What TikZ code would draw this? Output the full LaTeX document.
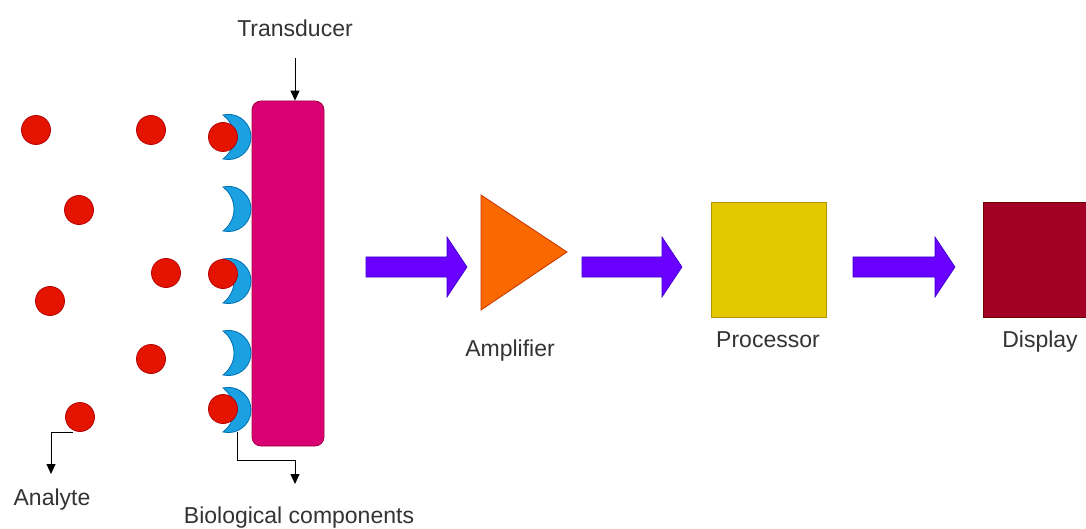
\documentclass[tikz,border=0pt]{standalone}
\usepackage{fontspec}
\setmainfont{Liberation Sans}
\usetikzlibrary{arrows.meta}
\definecolor{redF}{HTML}{E51400}
\definecolor{redD}{HTML}{B20000}
\definecolor{blueF}{HTML}{1BA1E2}
\definecolor{blueD}{HTML}{006EAF}
\definecolor{magF}{HTML}{D80073}
\definecolor{magD}{HTML}{A50040}
\definecolor{purF}{HTML}{6A00FF}
\definecolor{purD}{HTML}{3700CC}
\definecolor{orgF}{HTML}{FA6800}
\definecolor{orgD}{HTML}{C73500}
\definecolor{yelF}{HTML}{E3C800}
\definecolor{yelD}{HTML}{B09500}
\definecolor{crmF}{HTML}{A20025}
\definecolor{crmD}{HTML}{6F0000}
\definecolor{txt}{HTML}{333333}
\newcommand{\crescent}[2]{% name, center y
  \draw[bio] (228.4,#2) ++(-103.8:22.6) coordinate (#1)
    arc[start angle=-103.8, end angle=103.8, radius=22.6]
    arc[start angle=53.1, end angle=-53.1, radius=27.5] -- cycle;
  \coordinate (#1c) at (237,#2);}
\newcommand{\blockarrow}[4]{% name, left x, head base x, tip x (centre y 267)
  \draw[blockarr] (#2,257) -- (#3,257) -- (#3,237) -- (#4,267) -- (#3,297) -- (#3,277) -- (#2,277) -- cycle;
  \coordinate (#1) at (#2,267);}
\begin{document}
\begin{tikzpicture}[x=1pt,y=-1pt,
  analyte/.style={circle, fill=redF, draw=redD, line width=0.8pt, minimum size=29pt, inner sep=0pt},
  bio/.style={fill=blueF, draw=blueD, line width=0.8pt},
  lbl/.style={text=txt, font=\fontsize{23}{27}\selectfont, inner sep=0pt, anchor=base},
  conn/.style={black, line width=1pt, -{Triangle[length=10pt,width=9pt]}},
  blockarr/.style={fill=purF, draw=purD, line width=0.6pt}]
\clip (0,0) rectangle (1086,529);
\fill[white] (0,0) rectangle (1086,529);

% transducer
\node[draw=magD, fill=magF, line width=0.8pt, rounded corners=9pt, minimum width=72pt, minimum height=345pt, inner sep=0pt] (trans) at (288,273.5) {};

% biological components
\crescent{b1}{137}
\crescent{b2}{209}
\crescent{b3}{281}
\crescent{b4}{353}
\crescent{b5}{410}

% analytes
\node[analyte] (a1) at (36,130) {};
\node[analyte] (a2) at (151,130) {};
\node[analyte] (a3) at (223,137) {};
\node[analyte] (a4) at (79,210) {};
\node[analyte] (a5) at (166,273) {};
\node[analyte] (a6) at (223,274) {};
\node[analyte] (a7) at (50,301) {};
\node[analyte] (a8) at (151,359) {};
\node[analyte] (a9) at (80,417) {};
\node[analyte] (a10) at (223,409) {};

% labels
\node[lbl] (tl) at (295,37) {Transducer};
\node[lbl] (al) at (52,505) {Analyte};
\node[lbl] (bl) at (299,523) {Biological components};
\node[lbl] (ampl) at (510,356) {Amplifier};
\node[lbl] (prl) at (768,347) {Processor};
\node[lbl] (dl) at (1040,347) {Display};

% callouts
\coordinate (tstart) at (295,58);
\draw[conn] (tstart) -- (trans.north -| tstart);
\coordinate (aend) at (51,474);
\draw[conn] (a9.south west |- 0,432) ++(4,0) -| (aend);
\coordinate (bend) at (295,484);
\draw[conn] (237,432) |- (295,460) -- (bend);

% amplifier
\draw[fill=orgF, draw=orgD, line width=0.8pt] (481,195) coordinate (amp) -- (567,252) -- (481,310) -- cycle;

% processor and display
\node[draw=yelD, fill=yelF, line width=0.8pt, minimum width=115pt, minimum height=115pt, inner sep=0pt] (proc) at (768.5,259.5) {};
\node[draw=crmD, fill=crmF, line width=0.8pt, minimum width=120pt, minimum height=115pt, inner sep=0pt, anchor=north west] (disp) at (983,202) {};

% block arrows
\blockarrow{ar1}{366}{447}{467}
\blockarrow{ar2}{582}{662}{682}
\blockarrow{ar3}{853}{935}{955}
\end{tikzpicture}
\end{document}
